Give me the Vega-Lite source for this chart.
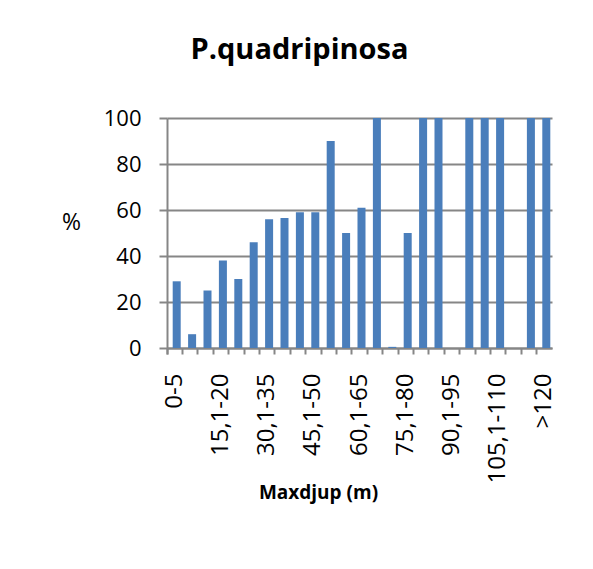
{
  "$schema": "https://vega.github.io/schema/vega-lite/v6.json",
  "autosize": {"type": "none"},
  "width": 385,
  "height": 230,
  "padding": {"left": 167, "top": 118, "right": 41, "bottom": 221},
  "background": "white",
  "title": {
    "text": "P.quadripinosa",
    "font": "Open Sans",
    "fontSize": 29,
    "fontWeight": "bold",
    "color": "#000000",
    "anchor": "middle",
    "frame": "group",
    "baseline": "alphabetic",
    "offset": 19,
    "dx": -60
  },
  "data": {
    "values": [
      {"depth": "0-5", "pct": 29},
      {"depth": "5,1-10", "pct": 6},
      {"depth": "10,1-15", "pct": 25},
      {"depth": "15,1-20", "pct": 38},
      {"depth": "20,1-25", "pct": 30},
      {"depth": "25,1-30", "pct": 46},
      {"depth": "30,1-35", "pct": 56},
      {"depth": "35,1-40", "pct": 56.5},
      {"depth": "40,1-45", "pct": 59},
      {"depth": "45,1-50", "pct": 59},
      {"depth": "50,1-55", "pct": 90},
      {"depth": "55,1-60", "pct": 50},
      {"depth": "60,1-65", "pct": 61},
      {"depth": "65,1-70", "pct": 100},
      {"depth": "70,1-75", "pct": 0.5},
      {"depth": "75,1-80", "pct": 50},
      {"depth": "80,1-85", "pct": 100},
      {"depth": "85,1-90", "pct": 100},
      {"depth": "90,1-95", "pct": 0},
      {"depth": "95,1-100", "pct": 100},
      {"depth": "100,1-105", "pct": 100},
      {"depth": "105,1-110", "pct": 100},
      {"depth": "110,1-115", "pct": 0},
      {"depth": "115,1-120", "pct": 100},
      {"depth": ">120", "pct": 100}
    ]
  },
  "mark": {"type": "bar", "color": "#4A7EBB", "width": {"band": 0.52}, "xOffset": 2},
  "encoding": {
    "x": {
      "field": "depth",
      "type": "nominal",
      "sort": null,
      "scale": {"paddingInner": 0, "paddingOuter": 0},
      "axis": {
        "title": "Maxdjup (m)",
        "titleFont": "Open Sans",
        "titleFontSize": 19,
        "titleFontWeight": "bold",
        "titleColor": "#000000",
        "titleX": 151,
        "titleY": 144,
        "titleAlign": "center",
        "titleBaseline": "middle",
        "labelAngle": -90,
        "labelFont": "Open Sans",
        "labelFontSize": 24,
        "labelColor": "#000000",
        "labelPadding": 19,
        "labelOverlap": false,
        "labelBound": false,
        "labelExpr": "indexof(['0-5','15,1-20','30,1-35','45,1-50','60,1-65','75,1-80','90,1-95','105,1-110','>120'], datum.value) >= 0 ? datum.value : ''",
        "bandPosition": 0,
        "tickExtra": true,
        "tickSize": 6,
        "tickColor": "#868686",
        "tickWidth": 2,
        "domainColor": "#868686",
        "domainWidth": 2,
        "grid": false
      }
    },
    "y": {
      "field": "pct",
      "type": "quantitative",
      "scale": {"domain": [0, 100], "nice": false},
      "axis": {
        "title": "%",
        "titleFont": "Open Sans",
        "titleFontSize": 23,
        "titleFontWeight": "normal",
        "titleColor": "#000000",
        "titleAngle": 0,
        "titleX": -96,
        "titleY": 104,
        "titleAlign": "center",
        "titleBaseline": "middle",
        "values": [0, 20, 40, 60, 80, 100],
        "labelFont": "Open Sans",
        "labelFontSize": 22,
        "labelColor": "#000000",
        "labelPadding": 18,
        "tickSize": 8,
        "tickColor": "#868686",
        "tickWidth": 2,
        "domainColor": "#868686",
        "domainWidth": 2,
        "grid": true,
        "gridColor": "#868686",
        "gridWidth": 2
      }
    }
  },
  "config": {"view": {"stroke": null}}
}
